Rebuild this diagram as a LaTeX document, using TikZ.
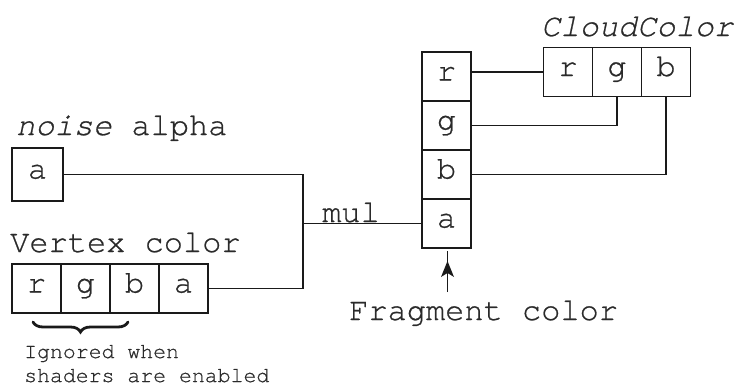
\documentclass[tikz,border=0pt]{standalone}
\usepackage{fontspec}
\setmainfont{TeX Gyre Cursor}[FakeBold=0.7]
\usetikzlibrary{decorations.pathreplacing}
\definecolor{ink}{HTML}{1a1a1a}
\definecolor{txt}{HTML}{2a2a2a}
\begin{document}
\begin{tikzpicture}[x=1pt,y=-1pt,
  cell/.style={draw=ink,line width=1.3pt,minimum width=49pt,minimum height=49pt,inner sep=0pt,text=txt,font=\fontsize{32}{32}\selectfont,text height=14pt,text depth=6pt},
  lbl/.style={anchor=base west,inner sep=0pt,text=txt,font=\fontsize{32}{32}\selectfont},
  small/.style={anchor=base west,inner sep=0pt,text=txt,font=\fontsize{21.5}{21.5}\selectfont},
  wire/.style={draw=ink,line width=1.3pt}]
\useasboundingbox (0,0) rectangle (744,388);
% noise alpha
\node[lbl] (nlbl) at (16,135) {\textit{noise} alpha};
\node[cell,minimum width=51pt,minimum height=53pt] (na) at (37.5,174.5) {a};
% vertex color
\node[lbl] (vlbl) at (10,252) {Vertex color};
\node[cell] (vr) at (36.5,288.5) {r};
\node[cell] (vg) at (85.5,288.5) {g};
\node[cell] (vb) at (134.5,288.5) {b};
\node[cell] (va) at (183.5,288.5) {a};
% fragment
\node[cell] (fr) at (446.5,76.5) {r};
\node[cell] (fg) at (446.5,125.5) {g};
\node[cell] (fb) at (446.5,174.5) {b};
\node[cell] (fa) at (446.5,223.5) {a};
% cloud
\node[lbl] (clbl) at (541,36) {\textit{CloudColor}};
\node[cell] (cr) at (568,72) {r};
\node[cell] (cg) at (617,72) {g};
\node[cell] (cb) at (666,72) {b};
% connectors
\coordinate (j) at (303,223.5);
\draw[wire] (na.east) -| (j);
\draw[wire] (va.east) -| (j);
\draw[wire] (j) -- (fa.west);
\node[lbl] (mul) at (322,222) {mul};
\draw[wire] (cr.west) -- (cr.west -| fr.east);
\draw[wire] (cg.south) |- (fg.east);
\draw[wire] (cb.south) |- (fb.east);
% fragment label and arrow
\node[lbl] (flbl) at (349,320) {Fragment color};
\coordinate (atail) at (447.5,292);
\coordinate (ahead) at (447.5,261);
\draw[draw=ink,line width=1.8pt] (atail) -- ([yshift=10pt]ahead);
\fill[ink] (ahead) -- ++(6.5,16) -- ++(-6.5,-4) -- ++(-6.5,4) -- cycle;
% brace
\draw[draw=ink,line width=2.8pt,line cap=round,decorate,decoration={brace,mirror,amplitude=10pt}] (33,322) -- (128,322);
\node[small] (ign1) at (24,358) {Ignored when};
\node[small] (ign2) at (24,382) {shaders are enabled};
\end{tikzpicture}
\end{document}
